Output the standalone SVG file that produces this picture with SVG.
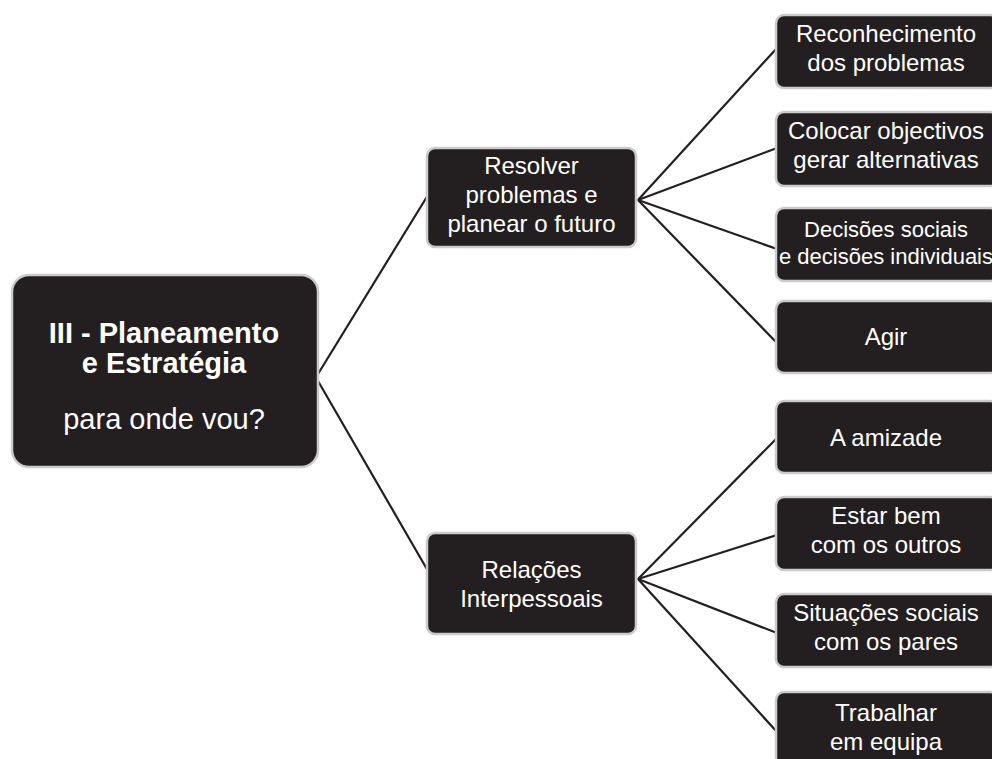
<svg xmlns="http://www.w3.org/2000/svg" width="992" height="759" viewBox="0 0 992 759">
<style>
.box{fill:#231f20;stroke:#cbcbcb;stroke-width:2.5}
.t{fill:#ffffff;font-family:"Liberation Sans",Arial,sans-serif;font-size:24px;text-anchor:middle}
.rt{fill:#ffffff;font-family:"Liberation Sans",Arial,sans-serif;font-size:29px;text-anchor:middle}
.b{font-weight:bold}
.s{font-size:22px}
.c{stroke:#231f20;stroke-width:2.2;fill:none}
</style>
<rect width="992" height="759" fill="#ffffff"/>
<g id="connectors">
<line class="c" x1="318" y1="374" x2="428" y2="195"/>
<line class="c" x1="318" y1="381" x2="428" y2="571"/>
<line class="c" x1="638" y1="200" x2="777" y2="48"/>
<line class="c" x1="638" y1="200" x2="777" y2="148"/>
<line class="c" x1="638" y1="200" x2="777" y2="249"/>
<line class="c" x1="638" y1="200" x2="777" y2="343"/>
<line class="c" x1="638" y1="579" x2="777" y2="438"/>
<line class="c" x1="638" y1="579" x2="777" y2="535"/>
<line class="c" x1="638" y1="579" x2="777" y2="633"/>
<line class="c" x1="638" y1="579" x2="777" y2="732"/>
</g>
<g id="root">
<rect class="box" x="12" y="275" width="306" height="192" rx="17"/>
<text class="rt b" x="164" y="343">III - Planeamento</text>
<text class="rt b" x="164" y="373">e Estratégia</text>
<text class="rt" x="164" y="429">para onde vou?</text>
</g>
<g id="resolver">
<rect class="box" x="427" y="148" width="209" height="99" rx="8"/>
<text class="t" x="531.5" y="174">Resolver</text>
<text class="t" x="531.5" y="203">problemas e</text>
<text class="t" x="531.5" y="232">planear o futuro</text>
</g>
<g id="relacoes">
<rect class="box" x="427" y="533" width="209" height="101" rx="8"/>
<text class="t" x="531.5" y="578">Relações</text>
<text class="t" x="531.5" y="607">Interpessoais</text>
</g>
<g id="reconhecimento">
<rect class="box" x="776" y="15" width="222" height="73" rx="8"/>
<text class="t" x="886" y="42">Reconhecimento</text>
<text class="t" x="886" y="71">dos problemas</text>
</g>
<g id="colocar">
<rect class="box" x="776" y="112" width="222" height="74" rx="8"/>
<text class="t" x="886" y="139">Colocar objectivos</text>
<text class="t" x="886" y="168">gerar alternativas</text>
</g>
<g id="decisoes">
<rect class="box" x="776" y="208" width="222" height="73" rx="8"/>
<text class="t s" x="886" y="237">Decisões sociais</text>
<text class="t s" x="886" y="264">e decisões individuais</text>
</g>
<g id="agir">
<rect class="box" x="776" y="301" width="222" height="72" rx="8"/>
<text class="t" x="886" y="345">Agir</text>
</g>
<g id="amizade">
<rect class="box" x="776" y="401" width="222" height="72" rx="8"/>
<text class="t" x="886" y="446">A amizade</text>
</g>
<g id="estar-bem">
<rect class="box" x="776" y="497" width="222" height="73" rx="8"/>
<text class="t" x="886" y="524">Estar bem</text>
<text class="t" x="886" y="553">com os outros</text>
</g>
<g id="situacoes">
<rect class="box" x="776" y="594" width="222" height="73" rx="8"/>
<text class="t" x="886" y="621">Situações sociais</text>
<text class="t" x="886" y="650">com os pares</text>
</g>
<g id="trabalhar">
<rect class="box" x="776" y="692" width="222" height="80" rx="8"/>
<text class="t" x="886" y="721">Trabalhar</text>
<text class="t" x="886" y="750">em equipa</text>
</g>
</svg>
